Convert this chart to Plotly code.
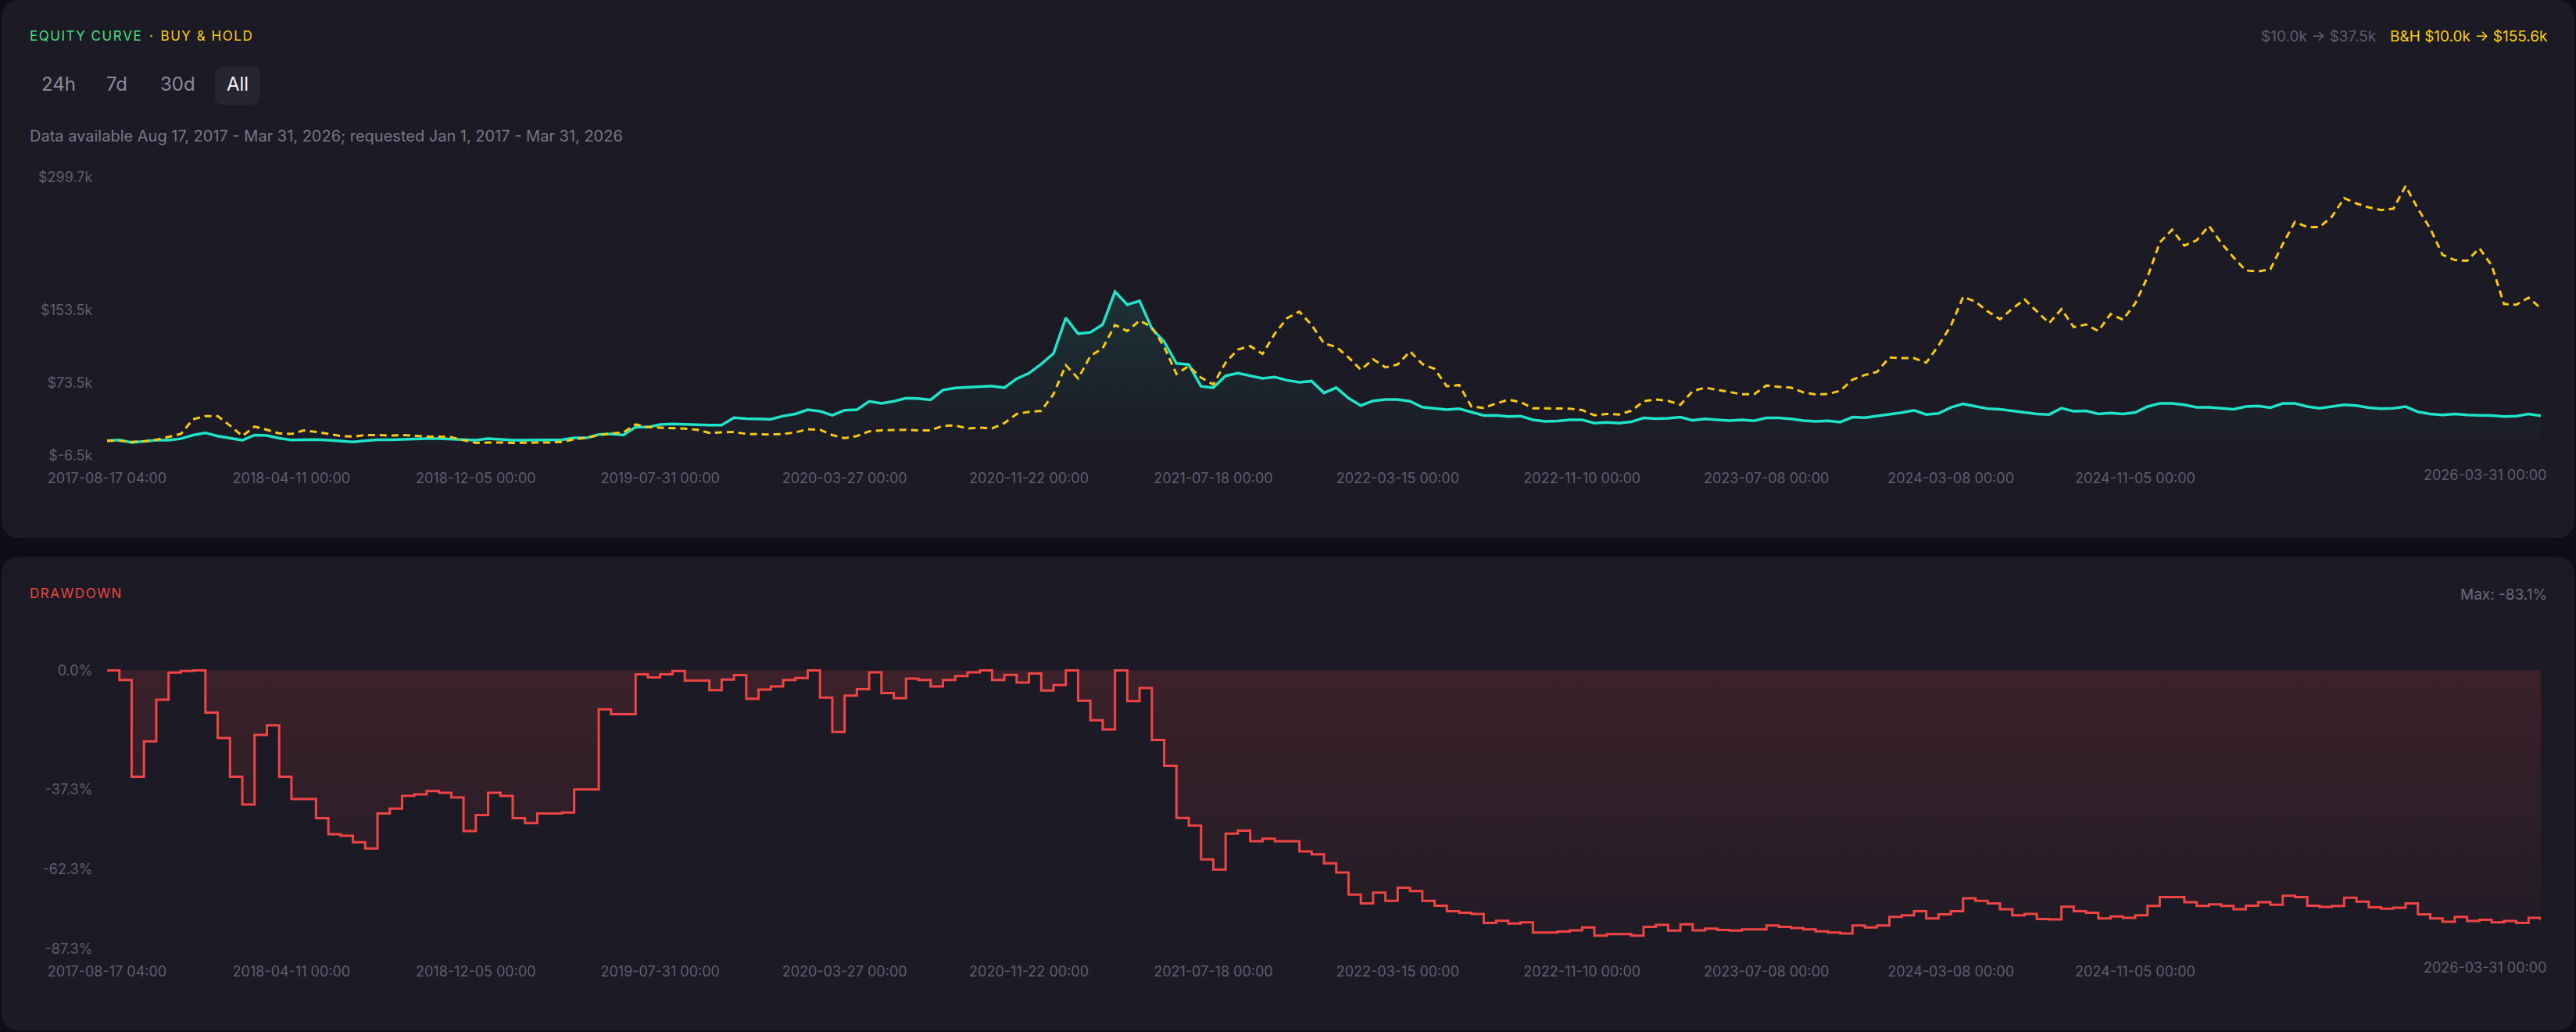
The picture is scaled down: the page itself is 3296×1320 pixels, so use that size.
import plotly.graph_objects as go

# ---------------- data ----------------
equity = [
    10.0, 10.8, 8.2, 9.4, 10.6, 10.6, 12.3, 16.3, 18.7, 15.2,
    12.9, 10.6, 16.3, 15.8, 12.9, 10.8, 11.1, 11.4, 10.6, 9.4,
    8.8, 10.0, 11.1, 11.1, 11.7, 12.3, 12.3, 12.3, 11.7, 10.6,
    10.6, 12.3, 11.4, 10.6, 10.6, 10.6, 10.6, 11.1, 13.2, 13.2,
    16.9, 17.5, 16.3, 25.0, 25.0, 27.9, 28.5, 27.9, 27.9, 27.3,
    27.3, 35.4, 34.3, 33.7, 33.7, 37.2, 39.5, 44.1, 42.4, 38.0,
    43.5, 44.1, 53.4, 51.0, 53.4, 56.8, 56.5, 55.0, 65.8, 68.0,
    68.4, 69.5, 70.1, 68.4, 78.2, 84.3, 94.4, 106.0, 145.0, 127.7,
    129.1, 137.8, 173.9, 159.5, 163.8, 133.4, 119.0, 95.0, 93.8, 69.8,
    68.4, 81.4, 84.3, 81.4, 78.5, 80.0, 76.5, 74.2, 75.6, 62.6,
    68.4, 56.8, 48.7, 53.9, 55.4, 55.4, 53.5, 47.0, 45.3, 44.1,
    45.3, 41.8, 37.7, 38.0, 36.6, 37.2, 33.1, 31.4, 31.7, 33.1,
    33.1, 29.4, 30.2, 29.4, 30.8, 35.1, 34.3, 34.8, 36.0, 32.5,
    34.0, 33.1, 32.2, 33.1, 32.0, 35.1, 35.1, 34.0, 32.2, 31.4,
    32.0, 30.5, 36.0, 35.4, 37.2, 39.5, 40.9, 43.5, 38.9, 40.1,
    46.7, 50.5, 47.6, 45.3, 44.7, 42.9, 41.8, 39.5, 38.9, 45.8,
    42.4, 42.9, 39.5, 40.6, 39.5, 41.2, 47.6, 51.0, 51.0, 49.6,
    46.7, 46.7, 45.8, 44.7, 47.6, 48.2, 46.4, 51.0, 51.0, 47.6,
    45.8, 47.6, 49.6, 48.7, 46.4, 45.3, 45.8, 47.6, 41.8, 39.5,
    38.3, 39.5, 38.3, 38.0, 37.7, 36.6, 37.2, 39.5, 37.5,
]

buy_hold = [
    10.0, 10.0, 8.8, 9.4, 11.1, 14.6, 17.5, 33.7, 37.2, 37.2,
    26.7, 15.2, 25.6, 22.1, 18.1, 17.5, 21.3, 19.8, 17.5, 15.2,
    14.6, 16.3, 16.3, 15.8, 16.3, 15.5, 14.6, 14.6, 14.0, 10.6,
    7.7, 8.0, 8.2, 7.7, 7.7, 8.0, 8.2, 8.8, 11.7, 13.2,
    16.3, 18.1, 19.2, 27.9, 25.0, 24.4, 23.9, 23.3, 22.1, 18.7,
    19.2, 19.8, 17.5, 16.9, 16.9, 17.5, 19.2, 22.7, 22.1, 16.3,
    12.9, 15.2, 20.4, 21.5, 22.1, 22.1, 21.5, 21.5, 26.5, 26.8,
    23.6, 24.4, 23.6, 29.4, 39.5, 41.8, 42.9, 61.2, 93.0, 78.5,
    103.1, 111.8, 137.2, 130.6, 142.1, 134.9, 113.2, 83.4, 92.1, 79.4,
    71.9, 95.9, 110.3, 114.1, 105.4, 127.7, 144.7, 152.0, 137.2, 117.0,
    113.2, 101.6, 88.0, 99.6, 90.7, 93.8, 108.3, 94.4, 89.0, 69.8,
    71.3, 47.6, 46.1, 51.0, 55.1, 52.5, 45.8, 45.8, 45.8, 45.3,
    43.8, 38.0, 39.5, 38.9, 42.9, 53.4, 55.4, 53.9, 49.6, 64.6,
    68.4, 66.1, 63.2, 61.2, 61.2, 70.7, 69.3, 68.4, 63.2, 60.9,
    61.4, 64.9, 77.1, 82.3, 85.7, 101.6, 100.8, 100.8, 95.9, 114.7,
    136.3, 168.1, 162.9, 152.2, 143.6, 155.1, 165.3, 152.2, 139.2, 154.6,
    134.9, 137.8, 130.6, 149.4, 143.0, 160.9, 189.8, 228.0, 241.9, 224.5,
    230.3, 246.2, 227.4, 211.5, 197.1, 196.2, 198.5, 226.0, 250.6, 244.8,
    244.8, 256.3, 276.6, 270.8, 266.5, 263.6, 265.0, 290.0, 265.0, 243.3,
    214.4, 208.6, 207.8, 221.6, 202.8, 160.3, 159.5, 167.3, 155.6,
]

drawdown = [
    0.0, -3.0, -33.3, -22.2, -9.2, -0.7, -0.2, 0.0, -13.2, -21.2,
    -33.3, -42.0, -20.2, -17.2, -33.3, -40.3, -40.3, -46.3, -51.3, -51.8,
    -53.8, -55.8, -44.8, -43.3, -39.3, -38.8, -37.8, -38.3, -39.8, -50.3,
    -45.3, -38.3, -39.3, -46.3, -47.8, -44.8, -44.8, -44.5, -37.3, -37.3,
    -12.2, -13.7, -13.7, -1.2, -2.2, -1.2, -0.2, -3.2, -3.2, -6.2,
    -2.9, -1.5, -8.9, -6.0, -5.0, -3.0, -2.4, 0.0, -8.5, -19.3,
    -7.9, -5.9, -0.6, -7.1, -8.7, -2.6, -3.0, -5.0, -3.0, -1.8,
    -0.6, 0.0, -3.0, -1.4, -3.8, -1.0, -6.3, -4.6, 0.0, -9.5,
    -15.6, -18.5, 0.0, -9.6, -5.5, -21.8, -29.9, -46.2, -48.6, -59.2,
    -62.4, -51.1, -50.2, -53.5, -52.7, -53.5, -53.5, -56.7, -57.6, -60.4,
    -63.3, -70.2, -73.0, -69.6, -72.2, -68.1, -69.1, -72.2, -73.7, -75.4,
    -75.9, -76.3, -79.1, -78.4, -79.3, -78.9, -82.1, -82.1, -81.8, -81.4,
    -80.5, -83.1, -82.6, -82.6, -83.1, -80.3, -79.7, -81.5, -79.5, -81.4,
    -80.9, -81.3, -81.5, -81.1, -81.1, -79.9, -80.3, -80.7, -81.1, -81.7,
    -82.1, -82.4, -79.9, -80.5, -79.9, -77.2, -76.7, -75.4, -77.7, -76.4,
    -75.4, -71.4, -72.2, -73.0, -74.8, -76.7, -76.3, -77.9, -78.0, -74.0,
    -75.4, -75.9, -77.7, -77.1, -77.5, -76.7, -73.8, -71.0, -71.0, -72.6,
    -73.8, -73.3, -73.8, -74.8, -73.7, -72.6, -73.4, -70.6, -71.0, -73.7,
    -74.1, -73.8, -71.2, -72.4, -74.2, -74.6, -74.3, -73.0, -76.4, -77.7,
    -78.7, -77.2, -78.5, -78.1, -78.9, -78.5, -79.1, -77.5, -78.3,
]

x_labels = [
    "2017-08-17 04:00", "2018-04-11 00:00", "2018-12-05 00:00", "2019-07-31 00:00",
    "2020-03-27 00:00", "2020-11-22 00:00", "2021-07-18 00:00", "2022-03-15 00:00",
    "2022-11-10 00:00", "2023-07-08 00:00", "2024-03-08 00:00", "2024-11-05 00:00",
]
last_label = "2026-03-31 00:00"
label_every = 15

eq_tickvals = [-6.5, 73.5, 153.5, 299.7]
eq_ticktext = ["$-6.5k", "$73.5k", "$153.5k", "$299.7k"]
dd_tickvals = [-87.3, -62.3, -37.3, 0.0]
dd_ticktext = ["-87.3%", "-62.3%", "-37.3%", "0.0%"]

# ---------------- styling ----------------
W, H = 3296, 1320
PAGE_BG = "#0f0e17"
CARD_BG = "#1c1b25"
TEAL = "#1fe4c8"
GOLD = "#f7c910"
RED = "#ef4444"
TICK = "#5e5d72"
FONT = "Inter"
HS = "\u200a"  # hair space used as letter tracking for the small caps titles


def px(v):
    return v / W


def py(v):
    return 1 - v / H


def tracked(s):
    return HS.join(list(s))


def rrect(x0, y0, x1, y1, r):
    rx, ry = r / W, r / H
    X0, X1, Y0, Y1 = px(x0), px(x1), py(y0), py(y1)
    return (f"M {X0+rx},{Y0} L {X1-rx},{Y0} Q {X1},{Y0} {X1},{Y0-ry} "
            f"L {X1},{Y1+ry} Q {X1},{Y1} {X1-rx},{Y1} L {X0+rx},{Y1} "
            f"Q {X0},{Y1} {X0},{Y1+ry} L {X0},{Y0-ry} Q {X0},{Y0} {X0+rx},{Y0} Z")


n = len(equity)
xs = list(range(n))
tickpos = [i * label_every for i in range(len(x_labels))]

# plot-area placement (pixels)
PL, PR = 137, 3251
EQ_TOP, EQ_BOT = 226.6, 583.0
DD_ZERO, DD_BOT = 857.5, 1214.0
dd_pad = 0.8
dd_scale = (DD_BOT - DD_ZERO) / 87.3
DD_TOP = DD_ZERO - dd_pad * dd_scale

fig = go.Figure()

fig.add_trace(go.Scatter(
    x=xs, y=equity, mode="lines", line=dict(color=TEAL, width=3.5),
    fill="tozeroy",
    fillgradient=dict(type="vertical", start=0, stop=max(equity),
                      colorscale=[[0, "rgba(31,228,200,0.0)"], [1, "rgba(31,228,200,0.11)"]]),
    xaxis="x", yaxis="y", hoverinfo="skip",
))
fig.add_trace(go.Scatter(
    x=xs, y=buy_hold, mode="lines", line=dict(color=GOLD, width=3, dash="9px,6px"),
    xaxis="x", yaxis="y", hoverinfo="skip",
))
fig.add_trace(go.Scatter(
    x=xs, y=drawdown, mode="lines", line=dict(color=RED, width=3, shape="hv"),
    fill="tozeroy",
    fillgradient=dict(type="vertical", start=-87.3, stop=0,
                      colorscale=[[0, "rgba(239,68,68,0.02)"], [1, "rgba(239,68,68,0.15)"]]),
    xaxis="x2", yaxis="y2", hoverinfo="skip",
))

axis_common = dict(showgrid=False, zeroline=False, showline=False, ticks="outside",
                   tickcolor="rgba(0,0,0,0)", tickfont=dict(family=FONT, size=18, color=TICK),
                   fixedrange=True, automargin=False)

fig.update_layout(
    template="none",
    width=W, height=H, margin=dict(l=0, r=0, t=0, b=0, pad=0, autoexpand=False),
    paper_bgcolor=PAGE_BG, plot_bgcolor="rgba(0,0,0,0)",
    showlegend=False, hovermode=False,
    font=dict(family=FONT, color=TICK, size=18),
    xaxis=dict(domain=[px(PL), px(PR)], range=[0, n - 1], tickvals=tickpos, ticktext=x_labels,
               ticklen=12, anchor="y", **axis_common),
    yaxis=dict(domain=[py(EQ_BOT), py(EQ_TOP)], range=[eq_tickvals[0], eq_tickvals[-1]],
               tickvals=eq_tickvals, ticktext=eq_ticktext, ticklen=14, anchor="x", **axis_common),
    xaxis2=dict(domain=[px(PL), px(PR)], range=[0, n - 1], tickvals=tickpos, ticktext=x_labels,
                ticklen=12, anchor="y2", **axis_common),
    yaxis2=dict(domain=[py(DD_BOT), py(DD_TOP)], range=[dd_tickvals[0], dd_pad],
                tickvals=dd_tickvals, ticktext=dd_ticktext, ticklen=14, anchor="x2", **axis_common),
)

shapes = [
    dict(type="path", path=rrect(2, 0, 3294, 688, 24), xref="paper", yref="paper",
         fillcolor=CARD_BG, line=dict(width=0), layer="below"),
    dict(type="path", path=rrect(2, 712, 3294, 1318, 24), xref="paper", yref="paper",
         fillcolor=CARD_BG, line=dict(width=0), layer="below"),
    dict(type="path", path=rrect(275, 85, 333, 134, 11), xref="paper", yref="paper",
         fillcolor="#262532", line=dict(width=0), layer="below"),
]
fig.update_layout(shapes=shapes)


def txt(text, x, y, color, size, anchor="left"):
    return dict(text=text, x=px(x), y=py(y), xref="paper", yref="paper", showarrow=False,
                xanchor=anchor, yanchor="middle", font=dict(family=FONT, size=size, color=color))


buy_hold_title = "·  " + HS.join(["B", "U", "Y", " ", "&amp;", " ", "H", "O", "L", "D"])

ann = [
    txt(tracked("EQUITY CURVE"), 36, 46, "#4ade80", 17),
    txt(buy_hold_title, 189, 46, "#facc15", 17),
    txt("$10.0k → $37.5k", 3043, 46, "#5c5b70", 19, "right"),
    txt("B&amp;H $10.0k → $155.6k", 3262, 46, "#facc15", 19, "right"),
    txt("24h", 75, 108, "#8a899d", 24, "center"),
    txt("7d", 149, 108, "#8a899d", 24, "center"),
    txt("30d", 227, 108, "#8a899d", 24, "center"),
    txt("All", 304, 108, "#f2f2f7", 24, "center"),
    txt("Data available Aug 17, 2017 - Mar 31, 2026; requested Jan 1, 2017 - Mar 31, 2026",
        36, 174, "#77768a", 20),
    txt(tracked("DRAWDOWN"), 36, 759, RED, 17),
    txt("Max: -83.1%", 3261, 760, "#6b6a7e", 19, "right"),
    dict(text=last_label, x=n - 1, xref="x", y=py(607), yref="paper", showarrow=False,
         xanchor="right", yanchor="middle", xshift=9, font=dict(family=FONT, size=18, color=TICK)),
    dict(text=last_label, x=n - 1, xref="x2", y=py(1237), yref="paper", showarrow=False,
         xanchor="right", yanchor="middle", xshift=9, font=dict(family=FONT, size=18, color=TICK)),
]
fig.update_layout(annotations=ann)

fig.write_html(
    "out.html",
    config={"displayModeBar": False, "staticPlot": True},
    post_script="document.body.style.margin='0';document.body.style.background='#0f0e17';document.body.style.overflow='hidden';",
)
